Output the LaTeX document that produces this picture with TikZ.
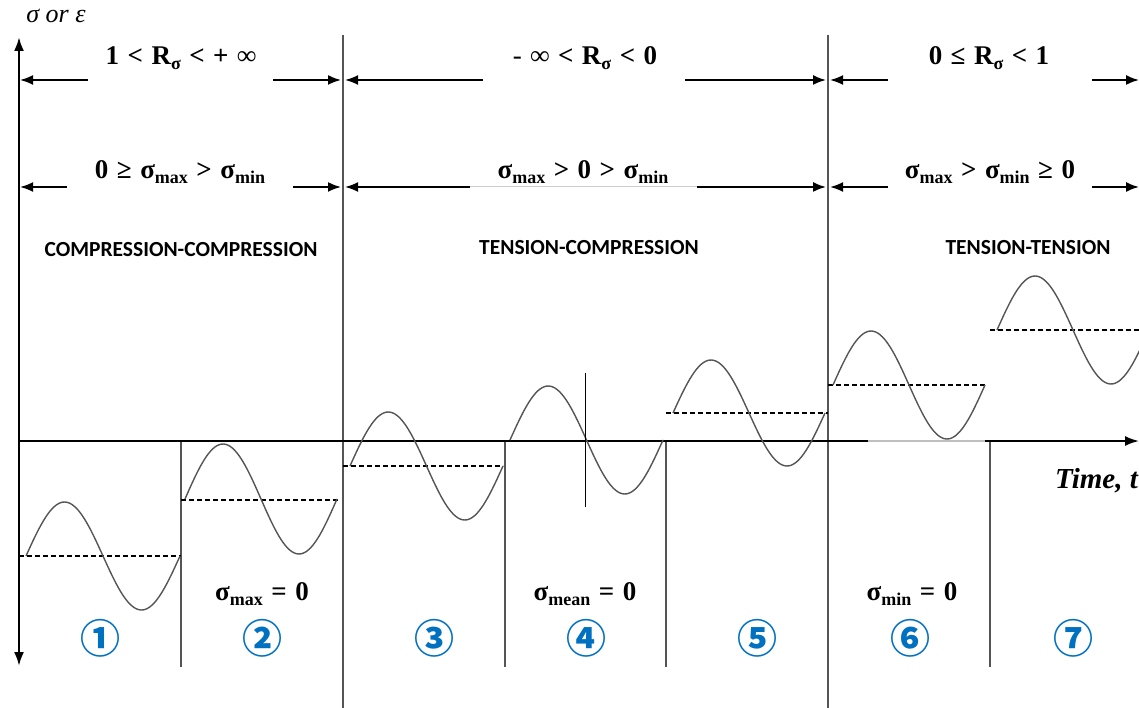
\documentclass[tikz,border=0pt]{standalone}
\usepackage{fontspec}
\setmainfont{Liberation Serif}
\newfontfamily\capsfont{Carlito}
\newfontfamily\circfont{Noto Sans CJK SC}
\usepackage{tikz}
\usetikzlibrary{arrows.meta}
\usepackage{xcolor}
\definecolor{numblue}{RGB}{0,112,192}
\definecolor{linegray}{RGB}{85,85,85}
\newcommand{\lowsub}[1]{\raisebox{-0.45ex}{\fontsize{18}{18}\selectfont #1}}
\newcommand{\widesp}{\spaceskip=8.5pt plus 2pt\relax}

\tikzset{
  dimarrow/.style={-{Latex[length=13pt,width=10pt]}, line width=1.8pt},
  wave/.style={linegray, line width=1.4pt},
  meanline/.style={line width=1.1pt, dash pattern=on 5pt off 3pt},
  divider/.style={linegray, line width=1.3pt},
  eqtext/.style={font=\fontsize{27}{27}\selectfont\bfseries, execute at begin node=\widesp, inner sep=0pt},
  modetext/.style={font=\capsfont\fontsize{21.5}{21.5}\selectfont\bfseries, inner sep=0pt},
  casenum/.style={font=\circfont\fontsize{40}{40}\selectfont\bfseries, text=numblue, inner sep=0pt},
}

\begin{document}
\begin{tikzpicture}[x=1pt,y=-1pt]
  \useasboundingbox (0,0) rectangle (1139,708);
  \clip (0,0) rectangle (1139,708);
  % axes and dividers
  \draw[{Latex[length=14pt,width=10pt]}-{Latex[length=14pt,width=10pt]},line width=2.4pt](19,37)--(19,666);
  \node[font=\fontsize{26}{26}\selectfont\itshape,inner sep=0pt] (ylab) at(56,16){σ or ε};
  \draw[divider](343,35)--(343,708);
  \draw[divider](828,35)--(828,708);
  \draw[divider](181,441)--(181,667);
  \draw[divider](505,441)--(505,667);
  \draw[divider](666,441)--(666,667);
  \draw[divider](990,441)--(990,667);
  \draw[line width=1.9pt](19,441)--(868,441);
  \draw[black!25,line width=1.9pt](868,441)--(985,441);
  \draw[-{Latex[length=14pt,width=10pt]},line width=1.9pt](985,441)--(1139,441);
  \node[font=\fontsize{29}{29}\selectfont\bfseries\itshape,anchor=west,inner sep=0pt] (tlab) at(1055,481){Time, t};
  % stress ratio row
  \node[eqtext] (ra) at(181,58){1 < R\lowsub{σ} < + ∞};
  \node[eqtext] (rb) at(585,58){{\mdseries -} ∞ < R\lowsub{σ} < 0};
  \node[eqtext] (rc) at(989,58){0 ≤ R\lowsub{σ} < 1};
  \coordinate (ra1) at(88,80);  \coordinate (ra0) at(20,80);
  \coordinate (ra2) at(273,80); \coordinate (ra3) at(341,80);
  \coordinate (rb1) at(483,80); \coordinate (rb0) at(345,80);
  \coordinate (rb2) at(685,80); \coordinate (rb3) at(826,80);
  \coordinate (rc1) at(888,80); \coordinate (rc0) at(830,80);
  \coordinate (rc2) at(1092,80);\coordinate (rc3) at(1139,80);
  \draw[dimarrow](ra1)--(ra0);
  \draw[dimarrow](ra2)--(ra3);
  \draw[dimarrow](rb1)--(rb0);
  \draw[dimarrow](rb2)--(rb3);
  \draw[dimarrow](rc1)--(rc0);
  \draw[dimarrow](rc2)--(rc3);
  % max/min row
  \node[eqtext] (sa) at(180,172){0 ≥ σ\lowsub{max} > σ\lowsub{min}};
  \node[eqtext] (sb) at(583,172){σ\lowsub{max} > 0 > σ\lowsub{min}};
  \node[eqtext] (sc) at(990,172){σ\lowsub{max} > σ\lowsub{min} ≥ 0};
  \coordinate (sa1) at(67,187);  \coordinate (sa0) at(20,187);
  \coordinate (sa2) at(293,187); \coordinate (sa3) at(341,187);
  \coordinate (sb1) at(470,187); \coordinate (sb0) at(345,187);
  \coordinate (sb2) at(697,187); \coordinate (sb3) at(826,187);
  \coordinate (sc1) at(888,187); \coordinate (sc0) at(830,187);
  \coordinate (sc2) at(1092,187);\coordinate (sc3) at(1139,187);
  \draw[dimarrow](sa1)--(sa0);
  \draw[dimarrow](sa2)--(sa3);
  \draw[black!20,line width=1pt](sb1)--(sb2);
  \draw[dimarrow](sb1)--(sb0);
  \draw[dimarrow](sb2)--(sb3);
  \draw[dimarrow](sc1)--(sc0);
  \draw[dimarrow](sc2)--(sc3);
  % loading modes
  \node[modetext] (cc) at(181,250){COMPRESSION-COMPRESSION};
  \node[modetext] (tc) at(589,248){TENSION-COMPRESSION};
  \node[modetext] (tt) at(1028,248){TENSION-TENSION};
  % cycles
  \draw[meanline](19,556)--(181,556);
  \draw[wave]plot[domain=0:360,samples=72]({26+\x/360*154},{556-54*sin(\x)});
  \draw[meanline](181,500)--(340,500);
  \draw[wave]plot[domain=0:360,samples=72]({185+\x/360*152},{499-55*sin(\x)});
  \draw[meanline](343,466)--(503,466);
  \draw[wave]plot[domain=0:360,samples=72]({350+\x/360*153},{466-54*sin(\x)});
  \draw[meanline](505,441)--(666,441);
  \draw[wave]plot[domain=0:360,samples=72]({510+\x/360*153},{440-54*sin(\x)});
  \draw[line width=1pt](585,373)--(585,507);
  \draw[meanline](666,413)--(828,413);
  \draw[wave]plot[domain=0:360,samples=72]({673+\x/360*152},{413-53*sin(\x)});
  \draw[meanline](828,385)--(985,385);
  \draw[wave]plot[domain=0:360,samples=72]({833+\x/360*152},{385-54*sin(\x)});
  \draw[meanline](990,330)--(1139,330);
  \draw[wave]plot[domain=0:360,samples=72]({997+\x/360*152},{330-54*sin(\x)});
  % special cases and numbers
  \node[eqtext] (zmax) at(262,594){σ\lowsub{max} = 0};
  \node[eqtext] (zmean) at(585,594){σ\lowsub{mean} = 0};
  \node[eqtext] (zmin) at(912,594){σ\lowsub{min} = 0};
  \node[casenum] (n1) at(100,638){①};
  \node[casenum] (n2) at(262,638){②};
  \node[casenum] (n3) at(434,638){③};
  \node[casenum] (n4) at(586,638){④};
  \node[casenum] (n5) at(757,638){⑤};
  \node[casenum] (n6) at(910,638){⑥};
  \node[casenum] (n7) at(1073,638){⑦};
\end{tikzpicture}
\end{document}
